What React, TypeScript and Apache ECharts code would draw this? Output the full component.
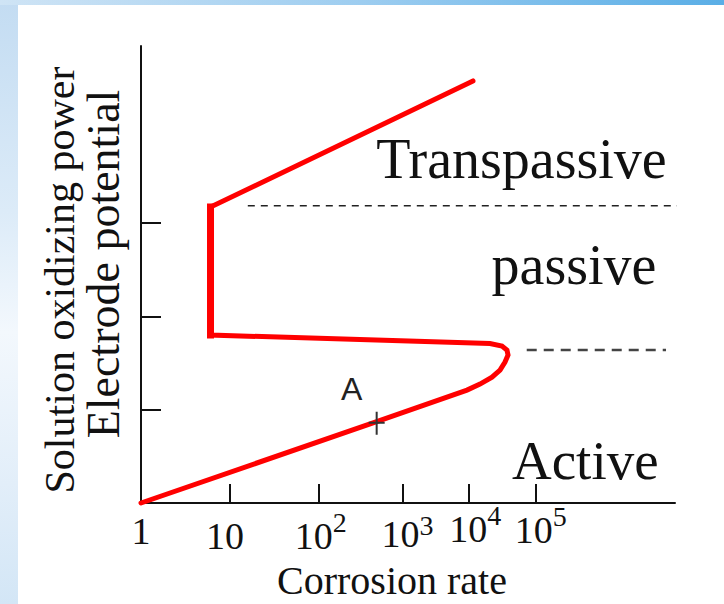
import React, { useEffect, useRef } from 'react';
import * as echarts from 'echarts';

// ---- data (schematic units: x = position along the log corrosion-rate axis, y = electrode potential) ----
const X_MIN = 0;
const X_MAX = 6;
const Y_MIN = 0;
const Y_MAX = 4.9;

const xTickValues = [1, 2, 2.94, 3.68, 4.44];
const yTickValues = [1, 2, 3];

const xLabelValues = [0, 0.944, 2.02, 2.994, 3.756, 4.492];
const xLabelBase = ['1', '10', '10', '10', '10', '10'];
const xLabelExp = ['', '', '2', '3', '4', '5'];

// polarization curve: active -> nose -> passive -> transpassive
const curveX = [0, 2.648, 3.663, 3.809, 3.944, 4.034, 4.09, 4.124, 4.112, 4.056, 3.921, 0.781, 0.781, 3.73];
const curveY = [0, 0.872, 1.211, 1.275, 1.35, 1.425, 1.511, 1.586, 1.64, 1.683, 1.71, 1.801, 3.173, 4.526];

const passiveTopX = [1.2, 6.034];
const passiveTopY = [3.187, 3.187];
const passiveBottomX = [4.334, 5.899];
const passiveBottomY = [1.64, 1.64];

const regionNames = ['Transpassive', 'passive', 'Active'];
const regionX = [4.275, 4.865, 4.992];
const regionY = [3.693, 2.551, 0.461];

const pointName = 'A';
const pointNameX = 2.367;
const pointNameY = 1.222;
const markerX = 2.648;
const markerY = 0.854;

const xAxisTitle = 'Corrosion rate';
const yAxisTitleInner = 'Electrode potential';
const yAxisTitleOuter = 'Solution oxidizing power';

const SERIF = "'Liberation Serif', 'Times New Roman', serif";
const SANS = "'Liberation Sans', Arial, sans-serif";
const INK = '#111111';

// per-label vertical offsets (px) for the staggered tick labels
const mainPad = [15, 20, 20, 18, 13, 14];
const supPad = [0, 0, 11, 14, 4, 5];

export default function App() {
  const ref = useRef<HTMLDivElement | null>(null);

  useEffect(() => {
    if (!ref.current) return;
    const chart = echarts.init(ref.current, undefined, { renderer: 'svg' });

    const rich: Record<string, any> = {};
    xLabelValues.forEach((_, i) => {
      rich['m' + i] = {
        fontFamily: SERIF,
        fontSize: 38,
        lineHeight: 38,
        color: INK,
        verticalAlign: 'top',
        padding: [mainPad[i], 0, 0, 0],
      };
      rich['s' + i] = {
        fontFamily: SERIF,
        fontSize: 28,
        lineHeight: 28,
        color: INK,
        verticalAlign: 'top',
        padding: [supPad[i], 0, 0, 0],
      };
    });

    const nearestIndex = (v: number) => {
      let best = 0;
      xLabelValues.forEach((lv, i) => {
        if (Math.abs(lv - v) < Math.abs(xLabelValues[best] - v)) best = i;
      });
      return best;
    };

    const curve = curveX.map((x, i) => [x, curveY[i]]);
    const passiveSegment = curve.slice(11, 13);

    const option: any = {
      animation: false,
      backgroundColor: '#ffffff',
      grid: {
        left: 141,
        top: 46,
        width: 534,
        height: 457,
        containLabel: false,
        outerBoundsMode: 'none',
      },
      xAxis: {
        type: 'value',
        min: X_MIN,
        max: X_MAX,
        name: xAxisTitle,
        nameLocation: 'middle',
        nameGap: 57,
        nameMoveOverlap: false,
        nameTextStyle: {
          fontFamily: SERIF,
          fontSize: 40,
          lineHeight: 40,
          color: INK,
          padding: [0, 32, 0, 0],
        },
        axisLine: { show: true, lineStyle: { color: INK, width: 2 } },
        axisTick: {
          show: true,
          inside: true,
          length: 19,
          customValues: xTickValues,
          lineStyle: { color: INK, width: 2 },
        },
        axisLabel: {
          show: true,
          margin: -6,
          customValues: xLabelValues,
          formatter: (v: number) => {
            const i = nearestIndex(v);
            const exp = xLabelExp[i];
            return '{m' + i + '|' + xLabelBase[i] + '}' + (exp ? '{s' + i + '|' + exp + '}' : '');
          },
          rich,
        },
        splitLine: { show: false },
      },
      yAxis: [
        {
          type: 'value',
          position: 'left',
          min: Y_MIN,
          max: Y_MAX,
          name: yAxisTitleInner,
          nameLocation: 'middle',
          nameGap: 15,
          nameMoveOverlap: false,
          nameTextStyle: {
            fontFamily: SERIF,
            fontSize: 46,
            lineHeight: 46,
            color: INK,
            padding: [0, 0, 0, 21],
          },
          axisLine: { show: true, lineStyle: { color: INK, width: 2 } },
          axisTick: {
            show: true,
            inside: true,
            length: 20,
            customValues: yTickValues,
            lineStyle: { color: INK, width: 2 },
          },
          axisLabel: { show: false },
          splitLine: { show: false },
        },
        {
          type: 'value',
          position: 'left',
          min: Y_MIN,
          max: Y_MAX,
          name: yAxisTitleOuter,
          nameLocation: 'middle',
          nameGap: 60,
          nameMoveOverlap: false,
          nameTextStyle: {
            fontFamily: SERIF,
            fontSize: 42,
            lineHeight: 42,
            color: INK,
            padding: [0, 11, 0, 0],
          },
          axisLine: { show: false },
          axisTick: { show: false },
          axisLabel: { show: false },
          splitLine: { show: false },
        },
      ],
      graphic: [
        {
          type: 'rect',
          left: 0,
          top: 0,
          shape: { width: 18, height: 604 },
          style: {
            fill: new echarts.graphic.LinearGradient(0, 0, 0, 1, [
              { offset: 0, color: '#c3dcf2' },
              { offset: 0.35, color: '#dcebf8' },
              { offset: 0.55, color: '#f3f8fd' },
              { offset: 0.8, color: '#e2eef9' },
              { offset: 1, color: '#d3e6f6' },
            ]),
          },
          silent: true,
        },
        {
          type: 'rect',
          left: 0,
          top: 0,
          shape: { width: 724, height: 5 },
          style: {
            fill: new echarts.graphic.LinearGradient(0, 0, 1, 0, [
              { offset: 0, color: '#cfe4f5' },
              { offset: 0.5, color: '#9dcdf0' },
              { offset: 1, color: '#5aaee6' },
            ]),
          },
          silent: true,
        },
      ],
      series: [
        {
          type: 'line',
          name: 'passive limit',
          data: passiveTopX.map((x, i) => [x, passiveTopY[i]]),
          symbol: 'none',
          clip: false,
          silent: true,
          lineStyle: { color: '#222222', width: 1.6, type: [7, 6] },
          z: 2,
        },
        {
          type: 'line',
          name: 'active limit',
          data: passiveBottomX.map((x, i) => [x, passiveBottomY[i]]),
          symbol: 'none',
          clip: false,
          silent: true,
          lineStyle: { color: '#444444', width: 2.4, type: [10, 7] },
          z: 2,
        },
        {
          type: 'line',
          name: 'polarization',
          data: curve,
          symbol: 'none',
          clip: false,
          silent: true,
          lineStyle: { color: '#ff0000', width: 5, join: 'miter', cap: 'round' },
          z: 3,
        },
        {
          type: 'line',
          name: 'passive',
          data: passiveSegment,
          symbol: 'none',
          clip: false,
          silent: true,
          lineStyle: { color: '#ff0000', width: 7, cap: 'square' },
          z: 3,
        },
        {
          type: 'scatter',
          name: 'regions',
          silent: true,
          symbolSize: 1,
          itemStyle: { color: 'rgba(0,0,0,0)', opacity: 1 },
          data: regionNames.map((n, i) => ({
            name: n,
            value: [regionX[i], regionY[i]],
            label: { fontSize: i === 2 ? 55 : 56 },
          })),
          label: {
            show: true,
            position: 'inside',
            formatter: '{b}',
            fontFamily: SERIF,
            fontSize: 56,
            color: INK,
            opacity: 1,
          },
          z: 4,
        },
        {
          type: 'scatter',
          name: 'point',
          silent: true,
          symbolSize: 1,
          itemStyle: { color: 'rgba(0,0,0,0)', opacity: 1 },
          data: [{ name: pointName, value: [pointNameX, pointNameY] }],
          label: {
            show: true,
            position: 'inside',
            formatter: '{b}',
            fontFamily: SANS,
            fontSize: 32,
            color: '#222222',
            opacity: 1,
          },
          z: 4,
        },
        {
          type: 'scatter',
          name: 'marker',
          silent: true,
          symbol: 'path://M7,0H9V10H16V12H9V23H7V12H0V10H7Z',
          symbolSize: [16, 23],
          itemStyle: { color: '#333333', opacity: 1 },
          data: [[markerX, markerY]],
          z: 5,
        },
      ],
    };

    chart.setOption(option);
    return () => {
      chart.dispose();
    };
  }, []);

  return (
    <div
      ref={ref}
      style={{ position: 'fixed', left: 0, top: 0, width: 724, height: 604, background: '#ffffff' }}
    />
  );
}
